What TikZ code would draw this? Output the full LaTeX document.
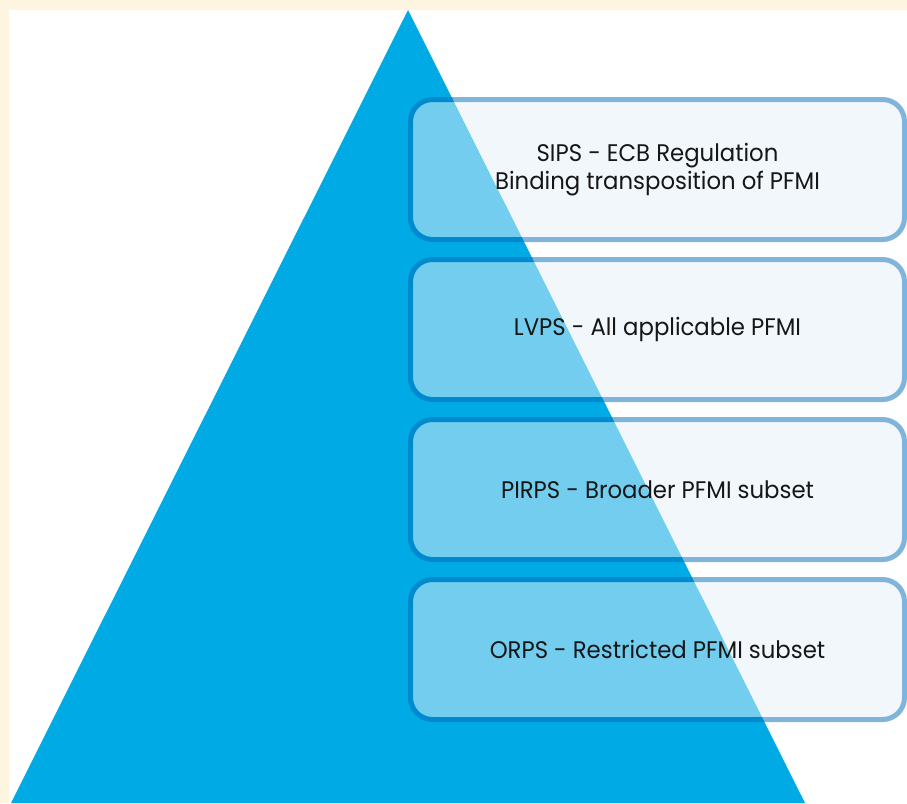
\documentclass[tikz,border=0pt]{standalone}
\usepackage{fontspec}
\setmainfont[FakeStretch=0.95]{Poppins}
\begin{document}
\begin{tikzpicture}[x=1pt,y=-1pt,
  boxshape/.style={draw=boxline, fill=boxfill, line width=5pt, rounded corners=22pt,
    minimum width=494pt, minimum height=140pt, inner sep=0pt, outer sep=0pt},
  label/.style={text=txt, font=\fontsize{24}{28}\selectfont, align=center, inner sep=0pt}]
\definecolor{cream}{RGB}{253,245,224}
\definecolor{tri}{RGB}{0,170,228}
\definecolor{boxfill}{RGB}{229,241,249}
\definecolor{boxline}{RGB}{0,107,185}
\definecolor{txt}{RGB}{22,22,22}
\useasboundingbox (0,0) rectangle (907,803);
\fill[cream] (0,0) rectangle (907,803);
\fill[white] (9,10) rectangle (907,803);
\fill[tri] (408,10) -- (11,803) -- (805,803) -- cycle;
\begin{scope}[transparency group, opacity=0.5]
  \node[boxshape] (box1) at (657.5,169.5) {};
  \node[boxshape] (box2) at (657.5,329.5) {};
  \node[boxshape] (box3) at (657.5,489.5) {};
  \node[boxshape] (box4) at (657.5,649.5) {};
\end{scope}
\node[label] (t1) at (box1.center) {SIPS - ECB Regulation\\Binding transposition of PFMI};
\node[label] (t2) at (box2.center) {LVPS - All applicable PFMI};
\node[label] (t3) at (box3.center) {PIRPS - Broader PFMI subset};
\node[label] (t4) at (box4.center) {ORPS - Restricted PFMI subset};
\end{tikzpicture}
\end{document}
